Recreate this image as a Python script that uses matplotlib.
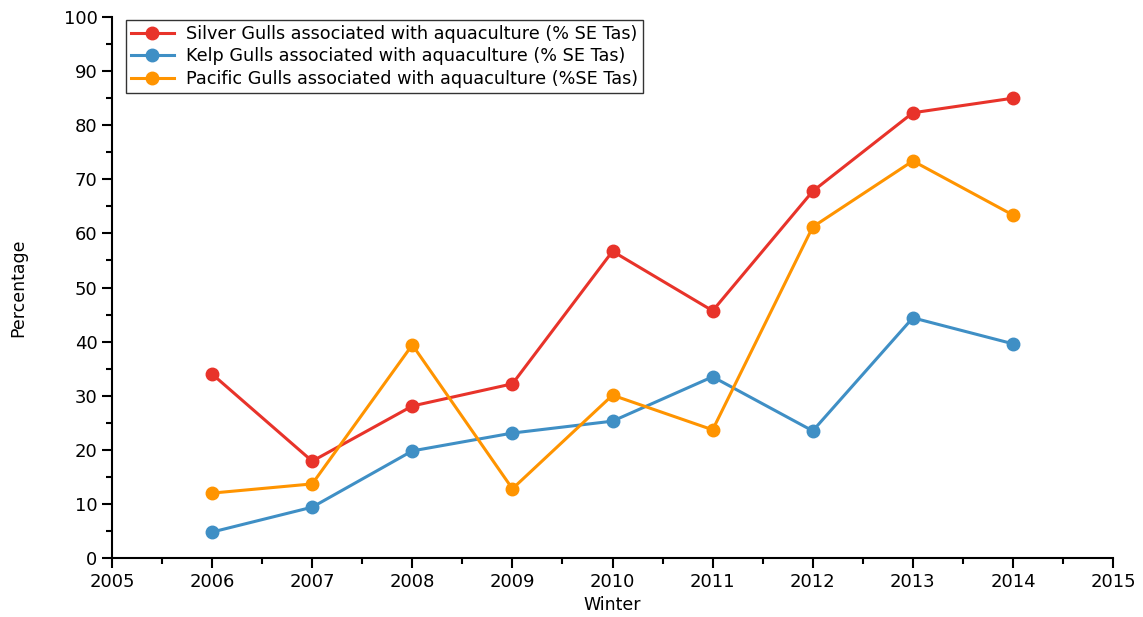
import matplotlib
matplotlib.use("Agg")
import matplotlib.pyplot as plt
from matplotlib.ticker import MultipleLocator

winters = [2006, 2007, 2008, 2009, 2010, 2011, 2012, 2013, 2014]
silver = [34.0, 17.9, 28.1, 32.2, 56.7, 45.7, 67.8, 82.3, 85.0]
kelp = [4.8, 9.4, 19.8, 23.1, 25.3, 33.5, 23.5, 44.4, 39.6]
pacific = [12.0, 13.7, 39.4, 12.8, 30.1, 23.7, 61.2, 73.4, 63.4]

labels = ['Silver Gulls associated with aquaculture (% SE Tas)',
          'Kelp Gulls associated with aquaculture (% SE Tas)',
          'Pacific Gulls associated with aquaculture (%SE Tas)']
colors = ['#e8332a', '#3f8fc5', '#ff9400']

plt.rcParams['font.family'] = ['DejaVu Sans']

fig = plt.figure(figsize=(11.43, 6.17), dpi=100)
ax = fig.add_axes([0.098, 0.0956, 0.8758, 0.8768])

for vals, lab, col in zip([silver, kelp, pacific], labels, colors):
    ax.plot(winters, vals, color=col, lw=2.2, marker='o', ms=9, label=lab)

ax.set_xlim(2005, 2015)
ax.set_ylim(0, 100)
ax.xaxis.set_major_locator(MultipleLocator(1))
ax.xaxis.set_minor_locator(MultipleLocator(0.5))
ax.yaxis.set_major_locator(MultipleLocator(10))
ax.yaxis.set_minor_locator(MultipleLocator(5))
ax.spines['top'].set_visible(False)
ax.spines['right'].set_visible(False)
for s in ['left', 'bottom']:
    ax.spines[s].set_linewidth(1.5)
ax.tick_params(which='major', direction='out', length=7, width=1.5, labelsize=13)
ax.tick_params(which='minor', direction='out', length=4, width=1.5)

ax.set_xlabel('Winter', fontsize=12.5)
ax.set_ylabel('Percentage', fontsize=12.5, labelpad=26)

leg = ax.legend(loc='upper left', bbox_to_anchor=(0.014, 0.995), fontsize=12.7,
                frameon=True, fancybox=False, edgecolor='black',
                borderpad=0.3, labelspacing=0.25, handlelength=2.4,
                handletextpad=0.7, borderaxespad=0.0)
leg.get_frame().set_linewidth(1.0)

fig.savefig('out.png', dpi=100)
